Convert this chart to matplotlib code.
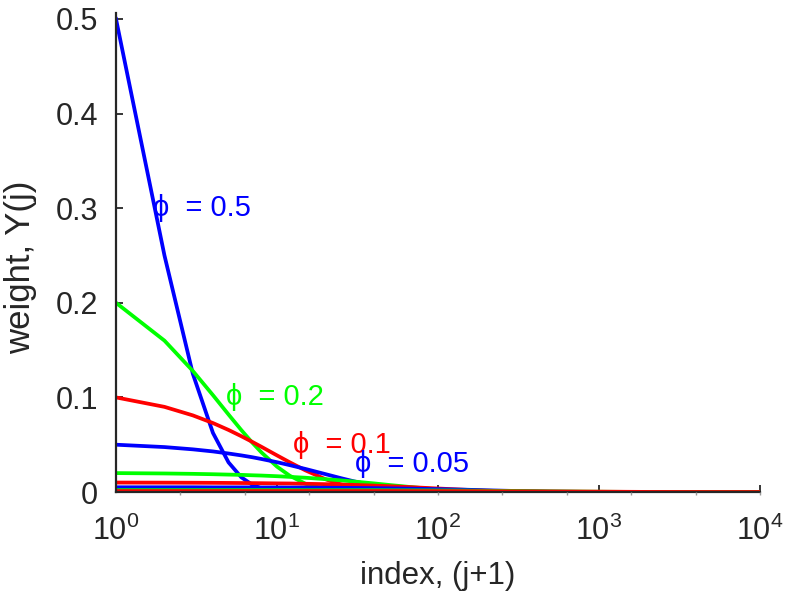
import matplotlib
matplotlib.use("Agg")
import matplotlib.pyplot as plt

# index (j+1) at which each curve is sampled
idx = [1, 2, 3, 4, 5, 6, 7, 8, 10, 12, 15, 20, 25, 30, 40, 50, 70, 100,
       150, 200, 300, 500, 1000, 2000, 5000, 10000]

# weights Y(j), one list per phi
w_050 = [0.5, 0.25, 0.125, 0.0625, 0.0313, 0.0156, 0.0078, 0.0039, 0.001, 0.0002,
         0.0, 0, 0, 0, 0, 0, 0, 0, 0, 0, 0, 0, 0, 0, 0, 0]
w_020 = [0.2, 0.16, 0.128, 0.1024, 0.0819, 0.0655, 0.0524, 0.0419, 0.0268, 0.0172,
         0.0088, 0.0029, 0.0009, 0.0003, 0.0, 0, 0, 0, 0, 0, 0, 0, 0, 0, 0, 0]
w_010 = [0.1, 0.09, 0.081, 0.0729, 0.0656, 0.059, 0.0531, 0.0478, 0.0387, 0.0314,
         0.0229, 0.0135, 0.008, 0.0047, 0.0016, 0.0006, 0.0001, 0, 0, 0, 0, 0, 0, 0, 0, 0]
w_005 = [0.05, 0.0475, 0.0451, 0.0429, 0.0407, 0.0387, 0.0368, 0.0349, 0.0315, 0.0284,
         0.0244, 0.0189, 0.0146, 0.0113, 0.0068, 0.0041, 0.0015, 0.0003, 0.0, 0, 0, 0, 0, 0, 0, 0]
w_002 = [0.02, 0.0196, 0.0192, 0.0188, 0.0184, 0.0181, 0.0177, 0.0174, 0.0167, 0.016,
         0.0151, 0.0136, 0.0123, 0.0111, 0.0091, 0.0074, 0.005, 0.0027, 0.001, 0.0004,
         0.0001, 0, 0, 0, 0, 0]
w_001 = [0.01, 0.0099, 0.0098, 0.0097, 0.0096, 0.0095, 0.0094, 0.0093, 0.0091, 0.009,
         0.0087, 0.0083, 0.0079, 0.0075, 0.0068, 0.0061, 0.005, 0.0037, 0.0023, 0.0014,
         0.0005, 0.0001, 0, 0, 0, 0]
w_0005 = [0.005, 0.005, 0.005, 0.0049, 0.0049, 0.0049, 0.0049, 0.0048, 0.0048, 0.0047,
          0.0047, 0.0045, 0.0044, 0.0043, 0.0041, 0.0039, 0.0035, 0.003, 0.0024, 0.0018,
          0.0011, 0.0004, 0.0, 0, 0, 0]
w_0002 = [0.002, 0.002, 0.002, 0.002, 0.002, 0.002, 0.002, 0.002, 0.002, 0.002,
          0.0019, 0.0019, 0.0019, 0.0019, 0.0019, 0.0018, 0.0017, 0.0016, 0.0015, 0.0013,
          0.0011, 0.0007, 0.0003, 0.0, 0, 0]
w_0001 = [0.001, 0.001, 0.001, 0.001, 0.001, 0.001, 0.001, 0.001, 0.001, 0.001,
          0.001, 0.001, 0.001, 0.001, 0.001, 0.001, 0.0009, 0.0009, 0.0009, 0.0008,
          0.0007, 0.0006, 0.0004, 0.0001, 0.0, 0]

series = [w_050, w_020, w_010, w_005, w_002, w_001, w_0005, w_0002, w_0001]
colors = ["#0000ff", "#00ff00", "#ff0000"] * 3

# curve labels: (x, y, text, colour)
labels = [
    (1.7, 0.30, "\u03d5  = 0.5", "#0000ff"),
    (4.8, 0.10, "\u03d5  = 0.2", "#00ff00"),
    (12.6, 0.05, "\u03d5  = 0.1", "#ff0000"),
    (30.5, 0.03, "\u03d5  = 0.05", "#0000ff"),
]

FONT = ["Liberation Sans", "DejaVu Sans"]
plt.rcParams["font.family"] = FONT
plt.rcParams["mathtext.fontset"] = "custom"
plt.rcParams["mathtext.rm"] = "Liberation Sans"
plt.rcParams["mathtext.it"] = "Liberation Sans"

fig = plt.figure(figsize=(7.87, 5.94), dpi=100, facecolor="white")
ax = fig.add_axes([0.1474, 0.1717, 0.8183, 0.8064])

# faint linear ticks under the bottom axis (leftover from the original figure)
ax2 = ax.twiny()
ax2.set_xlim(0, 1)
ax2.set_xticks([0.1 * k for k in range(1, 11)])
ax2.xaxis.set_ticks_position("bottom")
ax2.tick_params(axis="x", direction="out", length=2.5, width=1, color="#9a9a9a",
                labelbottom=False, labeltop=False)
for s in ax2.spines.values():
    s.set_visible(False)
ax2.set_yticks([])

for ys, c in zip(series, colors):
    ax.plot(idx, ys, color=c, lw=2.7, solid_joinstyle="round")

for x, y, t, c in labels:
    ax.text(x, y, t, color=c, fontsize=21, ha="left", va="center", family=FONT)

ax.set_xscale("log")
ax.set_xlim(1, 1e4)
ax.set_ylim(0, 0.5063)
ax.set_xticks([1, 10, 100, 1000, 10000])
ax.set_xticklabels([r"$\mathregular{10^{%d}}$" % k for k in range(5)])
ax.xaxis.set_minor_locator(matplotlib.ticker.NullLocator())
ax.set_yticks([0, 0.1, 0.2, 0.3, 0.4, 0.5])
ax.set_yticklabels(["0", "0.1", "0.2", "0.3", "0.4", "0.5"])

for s in ("top", "right"):
    ax.spines[s].set_visible(False)
for s in ("left", "bottom"):
    ax.spines[s].set_color("#262626")
    ax.spines[s].set_linewidth(1.6)

ax.tick_params(direction="in", length=5, width=1.3, colors="#262626",
               labelsize=22, pad=13)
ax.tick_params(axis="x", pad=17)

ax.set_xlabel("index, (j+1)", fontsize=22.5, color="#262626", labelpad=10)
ax.set_ylabel("weight, Y(j)", fontsize=25, color="#262626", labelpad=4)
ax.yaxis.set_label_coords(-0.122, 0.47)

fig.savefig("out.png", dpi=100, facecolor="white")
